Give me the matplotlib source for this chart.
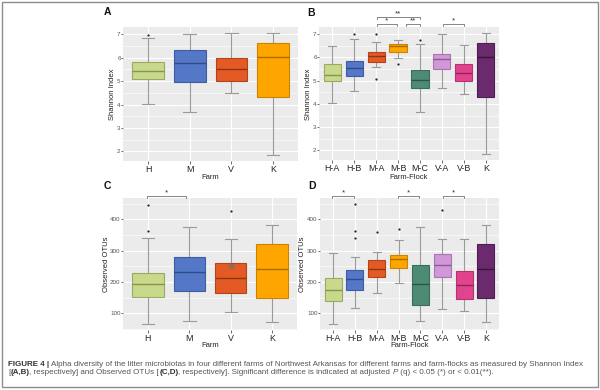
import matplotlib
matplotlib.use("Agg")
import matplotlib.pyplot as plt
from matplotlib.ticker import MultipleLocator
from matplotlib.patches import Rectangle

plt.rcParams['font.family'] = ['Liberation Sans', 'DejaVu Sans']

# ---------------- data ----------------
farms = ['H', 'M', 'V', 'K']
flocks = ['H-A', 'H-B', 'M-A', 'M-B', 'M-C', 'V-A', 'V-B', 'K']

# Panel A: Shannon index by farm
sh_farm_whislo = [4.03, 3.67, 4.48, 1.85]
sh_farm_q1 = [5.07, 4.98, 5.01, 4.31]
sh_farm_med = [5.43, 5.77, 5.53, 6.05]
sh_farm_q3 = [5.80, 6.34, 6.00, 6.63]
sh_farm_whishi = [6.82, 7.01, 7.04, 7.05]
sh_farm_fliers = [[6.98], [], [], []]

# Panel B: Shannon index by farm-flock
sh_flock_whislo = [4.06, 4.54, 5.59, 5.96, 3.67, 4.67, 4.45, 1.85]
sh_flock_q1 = [5.00, 5.22, 5.81, 6.25, 4.68, 5.49, 4.97, 4.31]
sh_flock_med = [5.26, 5.55, 6.05, 6.49, 5.01, 5.92, 5.34, 6.03]
sh_flock_q3 = [5.70, 5.86, 6.25, 6.56, 5.45, 6.17, 5.73, 6.63]
sh_flock_whishi = [6.51, 6.79, 6.66, 6.73, 6.59, 7.01, 6.53, 7.05]
sh_flock_fliers = [[], [7.0], [7.0, 5.08], [5.72], [6.73], [], [], []]

# Panel C: observed OTUs by farm
otu_farm_whislo = [66, 76, 106, 73]
otu_farm_q1 = [153, 170, 164, 149]
otu_farm_med = [193, 232, 214, 242]
otu_farm_q3 = [230, 281, 262, 320]
otu_farm_whishi = [341, 374, 336, 383]
otu_farm_fliers = [[447, 362], [], [428], []]
otu_farm_extra_cat = ['V']
otu_farm_extra_val = [252]

# Panel D: observed OTUs by farm-flock
otu_flock_whislo = [66, 118, 165, 197, 75, 115, 107, 72]
otu_flock_q1 = [139, 174, 215, 246, 128, 216, 147, 149]
otu_flock_med = [173, 209, 242, 275, 195, 255, 189, 242]
otu_flock_q3 = [214, 237, 269, 287, 254, 290, 235, 321]
otu_flock_whishi = [292, 280, 297, 335, 376, 336, 336, 383]
otu_flock_fliers = [[], [449, 363, 342], [361], [368], [], [430], [], []]

# significance brackets: (x1, x2, y, label)
sig_B = [(3.03, 5.0, 7.72, '**'), (3.03, 3.95, 7.43, '*'),
         (4.35, 5.0, 7.43, '**'), (6.04, 7.0, 7.43, '*')]
sig_C = [(0.98, 1.92, 473, '*')]
sig_D = [(0.96, 1.96, 475, '*'), (3.99, 4.94, 475, '*'), (6.02, 7.0, 475, '*')]

# ---------------- styles ----------------
farm_fill = ['#C8D98C', '#5577C8', '#E35A24', '#FFA500']
farm_edge = ['#9BAA62', '#3E5CA0', '#B2441A', '#CC8400']
farm_med = ['#86944F', '#2F4A88', '#8F3412', '#A86C00']
flock_fill = ['#C8D98C', '#5577C8', '#E35A24', '#FFA500', '#4E8B74', '#D197D8', '#E2438D', '#6C2A6E']
flock_edge = ['#9BAA62', '#3E5CA0', '#B2441A', '#CC8400', '#3A6D5A', '#A877AE', '#B43472', '#4F1E51']
flock_med = ['#86944F', '#2F4A88', '#8F3412', '#A86C00', '#2C5546', '#8A5C90', '#8E2559', '#3A143C']

W, H = 600, 390
fig = plt.figure(figsize=(6, 3.9), dpi=100)


def rect(l, t, r, b):
    return [l / W, 1 - b / H, (r - l) / W, (b - t) / H]


def fx(x):
    return x / W


def fy(y):
    return 1 - y / H


def panel(box, cats, whislo, q1, med, q3, whishi, fliers, fills, edges, meds,
          ylim, ymajor, yminor, width, capw):
    ax = fig.add_axes(box)
    stats = []
    for i, c in enumerate(cats):
        stats.append(dict(label=c, whislo=whislo[i], q1=q1[i], med=med[i],
                          q3=q3[i], whishi=whishi[i], fliers=fliers[i]))
    pos = list(range(1, len(cats) + 1))
    bp = ax.bxp(stats, positions=pos, widths=width, patch_artist=True,
                showcaps=True, capwidths=capw, manage_ticks=False,
                flierprops=dict(marker='o', markersize=1.6, markerfacecolor='#222222',
                                markeredgecolor='none'))
    for i in range(len(cats)):
        bp['boxes'][i].set_facecolor(fills[i])
        bp['boxes'][i].set_edgecolor(edges[i])
        bp['boxes'][i].set_linewidth(0.8)
        bp['boxes'][i].set_zorder(3)
        bp['medians'][i].set_color(meds[i])
        bp['medians'][i].set_linewidth(1.0)
        bp['medians'][i].set_zorder(4)
    for ln in bp['whiskers'] + bp['caps']:
        ln.set_color('#9A9A9A')
        ln.set_linewidth(0.8)
        ln.set_zorder(2)
    ax.set_xlim(0.4, len(cats) + 0.6)
    ax.set_ylim(*ylim)
    ax.set_xticks(pos)
    ax.set_xticklabels(cats)
    ax.yaxis.set_major_locator(MultipleLocator(ymajor))
    ax.yaxis.set_minor_locator(MultipleLocator(yminor))
    ax.set_facecolor('#EBEBEB')
    ax.set_axisbelow(True)
    ax.grid(which='major', color='white', linewidth=0.8)
    ax.grid(which='minor', axis='y', color='white', linewidth=0.4)
    for s in ax.spines.values():
        s.set_visible(False)
    ax.tick_params(axis='x', which='major', length=1.8, width=0.5, color='#333333',
                   labelsize=6.4, labelcolor='#222222', pad=1.0)
    ax.tick_params(axis='y', which='major', length=1.2, width=0.5, color='#333333',
                   labelsize=4.5, labelcolor='#555555', pad=0.5)
    ax.tick_params(which='minor', length=0)
    return ax


def brackets(ax, sigs, tick):
    for x1, x2, y, lab in sigs:
        ax.plot([x1, x1, x2, x2], [y - tick, y, y, y - tick], color='#555555',
                linewidth=0.5, clip_on=False, zorder=5)
        ax.text((x1 + x2) / 2, y - tick * 0.2, lab, ha='center', va='bottom',
                fontsize=5.8, color='#333333', clip_on=False)


axA = panel(rect(123, 27, 298, 161), farms, sh_farm_whislo, sh_farm_q1, sh_farm_med,
            sh_farm_q3, sh_farm_whishi, sh_farm_fliers, farm_fill, farm_edge, farm_med,
            (1.59, 7.31), 1, 0.5, 0.76, 0.3)
axB = panel(rect(319, 27, 499, 160), flocks, sh_flock_whislo, sh_flock_q1, sh_flock_med,
            sh_flock_q3, sh_flock_whishi, sh_flock_fliers, flock_fill, flock_edge, flock_med,
            (1.59, 7.31), 1, 0.5, 0.78, 0.36)
axC = panel(rect(123, 198, 297, 330), farms, otu_farm_whislo, otu_farm_q1, otu_farm_med,
            otu_farm_q3, otu_farm_whishi, otu_farm_fliers, farm_fill, farm_edge, farm_med,
            (47, 468), 100, 50, 0.76, 0.3)
axD = panel(rect(320, 198, 499, 330), flocks, otu_flock_whislo, otu_flock_q1, otu_flock_med,
            otu_flock_q3, otu_flock_whishi, otu_flock_fliers, flock_fill, flock_edge, flock_med,
            (47, 468), 100, 50, 0.78, 0.36)

for c, v in zip(otu_farm_extra_cat, otu_farm_extra_val):
    axC.plot([farms.index(c) + 1], [v], marker='o', markersize=3.2, color='#8A6A60',
             alpha=0.8, zorder=5)

brackets(axB, sig_B, 0.07)
brackets(axC, sig_C, 6)
brackets(axD, sig_D, 6)

# axis titles
lab_kw = dict(fontsize=5.5, color='#222222', ha='center', va='center')
fig.text(fx(112), fy(94), 'Shannon Index', rotation=90, **lab_kw)
fig.text(fx(309), fy(94), 'Shannon Index', rotation=90, **lab_kw)
fig.text(fx(106), fy(264), 'Observed OTUs', rotation=90, **lab_kw)
fig.text(fx(302), fy(264), 'Observed OTUs', rotation=90, **lab_kw)
fig.text(fx(210.5), fy(178), 'Farm', **lab_kw)
fig.text(fx(409), fy(178), 'Farm-Flock', **lab_kw)
fig.text(fx(210), fy(345.5), 'Farm', **lab_kw)
fig.text(fx(409.5), fy(345.5), 'Farm-Flock', **lab_kw)

# panel letters
for t, x, y in [('A', 107, 12), ('B', 311, 13), ('C', 107.5, 186), ('D', 312, 186)]:
    fig.text(fx(x), fy(y), t, fontsize=7.5, fontweight='bold', color='#111111',
             ha='center', va='center')

# frame
fig.patches.append(Rectangle((fx(2), fy(387)), fx(596), 385 / H, transform=fig.transFigure,
                             fill=False, edgecolor='#8C8C8C', linewidth=1.0))

# caption
renderer = fig.canvas.get_renderer()


def runs(x0, y, parts):
    x = fx(x0)
    for txt, w, st, col in parts:
        t = fig.text(x, fy(y), txt, fontsize=5.75, fontweight=w, fontstyle=st,
                     color=col, ha='left', va='center')
        bb = t.get_window_extent(renderer)
        x = bb.x1 / fig.bbox.width


body = '#555555'
runs(8, 364, [
    ('FIGURE 4 | ', 'bold', 'normal', '#333333'),
    ('Alpha diversity of the litter microbiotas in four different farms of Northwest Arkansas '
     'for different farms and farm-flocks as measured by Shannon Index', 'normal', 'normal', body)])
runs(8, 372.5, [
    ('[', 'normal', 'normal', body),
    ('(A,B)', 'bold', 'normal', '#333333'),
    (', respectively] and Observed OTUs [', 'normal', 'normal', body),
    ('(C,D)', 'bold', 'normal', '#333333'),
    (', respectively]. Significant difference is indicated at adjusted ', 'normal', 'normal', body),
    ('P', 'normal', 'italic', body),
    (' (q) < 0.05 (*) or < 0.01(**).', 'normal', 'normal', body)])

fig.savefig('out.png', dpi=100)
